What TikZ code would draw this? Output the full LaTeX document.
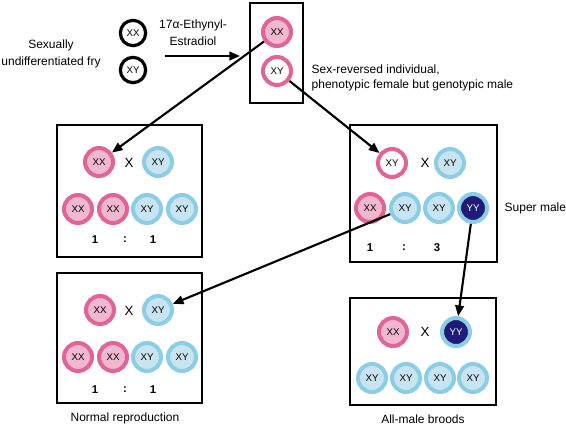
\documentclass[tikz,border=0pt]{standalone}
\usepackage{fontspec}
\setmainfont{Liberation Sans}
\usetikzlibrary{arrows.meta}
\definecolor{pinkring}{RGB}{224,100,152}
\definecolor{pinkfill}{RGB}{240,184,206}
\definecolor{bluering}{RGB}{140,205,230}
\definecolor{bluefill}{RGB}{200,228,240}
\definecolor{navy}{RGB}{30,28,120}

\begin{document}
\begin{tikzpicture}[x=0.75pt,y=-0.75pt,font=\fontsize{9}{12.8}\selectfont,
  g/.style={circle,minimum size=21pt,inner sep=0pt,line width=3pt,font=\fontsize{7.3}{8}\selectfont},
  fem/.style={g,draw=pinkring,fill=pinkfill},
  mal/.style={g,draw=bluering,fill=bluefill},
  sup/.style={g,draw=bluering,fill=navy,text=white},
  rev/.style={g,draw=pinkring,fill=white},
  fry/.style={g,draw=black,fill=white,minimum size=19pt,line width=2.4pt},
  panel/.style={draw,line width=2.2pt},
  arr/.style={-{Triangle[length=8pt,width=6.5pt]},line width=1.6pt},
  cross/.style={font=\fontsize{10}{10}\selectfont},
  num/.style={font=\fontsize{8.5}{9}\bfseries}]
\useasboundingbox (0,0) rectangle (566,426);
% fry and hormone treatment
\node[align=center] (fryl) at (51,54) {Sexually\\undifferentiated fry};
\node[fry] (f1) at (133,33) {XX};
\node[fry] (f2) at (133,70) {XY};
\node[align=center] (hormone) at (193,33) {17α-Ethynyl-\\Estradiol};
\coordinate (h0) at (165,56);
\coordinate (h1) at (240,56);
\draw[arr] (h0) -- (h1);
\draw[panel] (250,3) rectangle (303,103);
\node[fem] (t1) at (277,32) {XX};
\node[rev] (t2) at (277,71) {XY};
\node[anchor=west,align=left,font=\fontsize{9}{11.5}\selectfont] (revl) at (307,78) {Sex-reversed individual,\\phenotypic female but genotypic male};
% normal cross, top left
\draw[panel] (57,125) rectangle (202,257);
\node[fem] (l1) at (99,162) {XX};
\node[cross] (lx) at (129,163) {X};
\node[mal] (l2) at (158,162) {XY};
\node[fem] (l3) at (78,209) {XX};
\node[fem] (l4) at (113,209) {XX};
\node[mal] (l5) at (147,209) {XY};
\node[mal] (l6) at (182,209) {XY};
\node[num] (ln1) at (95,240) {1};
\node[num] (lc) at (125,240) {:};
\node[num] (ln2) at (153,240) {1};
% cross with sex-reversed female
\draw[panel] (350,125) rectangle (497,262);
\node[rev] (r1) at (392,163) {XY};
\node[cross] (rx) at (425,163) {X};
\node[mal] (r2) at (450,163) {XY};
\node[fem] (r3) at (370,208) {XX};
\node[mal] (r4) at (405,208) {XY};
\node[mal] (r5) at (439,208) {XY};
\node[sup] (r6) at (473,208) {YY};
\node[num] (rn1) at (370,248) {1};
\node[num] (rc) at (404,248) {:};
\node[num] (rn2) at (437,248) {3};
\node[anchor=west] (supl) at (500,208) {Super male};
% normal reproduction, bottom left
\draw[panel] (57,273) rectangle (202,403);
\node[fem] (b1) at (100,310) {XX};
\node[cross] (bx) at (129,311) {X};
\node[mal] (b2) at (158,310) {XY};
\node[fem] (b3) at (78,357) {XX};
\node[fem] (b4) at (113,357) {XX};
\node[mal] (b5) at (147,357) {XY};
\node[mal] (b6) at (182,357) {XY};
\node[num] (bn1) at (95,390) {1};
\node[num] (bc) at (125,390) {:};
\node[num] (bn2) at (153,390) {1};
\node (bl) at (125,418) {Normal reproduction};
% all-male broods, bottom right
\draw[panel] (350,298) rectangle (496,405);
\node[fem] (d1) at (393,332) {XX};
\node[cross] (dx) at (425,332) {X};
\node[sup] (d2) at (456,332) {YY};
\node[mal] (d3) at (372,378) {XY};
\node[mal] (d4) at (406,378) {XY};
\node[mal] (d5) at (440,378) {XY};
\node[mal] (d6) at (473,378) {XY};
\node (dl) at (423,419) {All-male broods};
% lineage arrows
\draw[arr] (t1) -- (l1);
\draw[arr] (t2) -- (r1);
\draw[arr] (r4) -- (b2);
\draw[arr] (r6) -- (d2);
\end{tikzpicture}
\end{document}
